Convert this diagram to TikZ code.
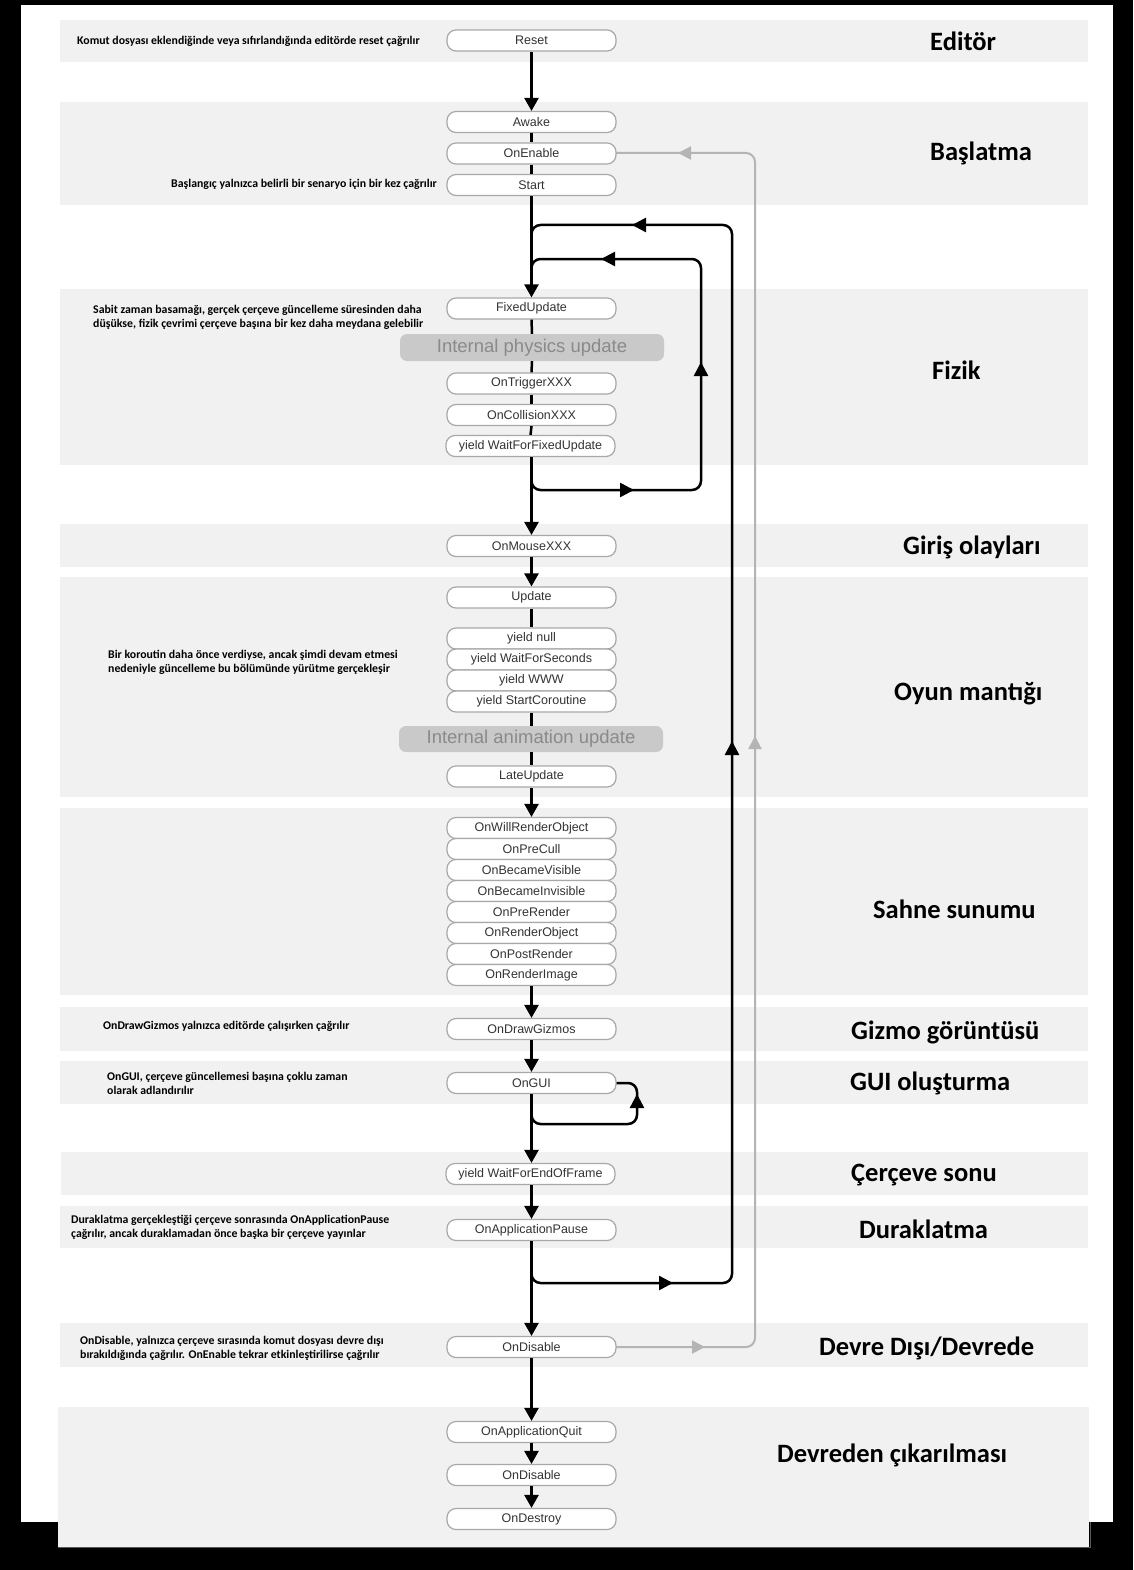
\documentclass[tikz,border=0pt]{standalone}
\usepackage{fontspec}
\setmainfont{Liberation Sans}
\newfontfamily\calfont{Carlito}
\usetikzlibrary{arrows.meta,calc}
\definecolor{band}{HTML}{F1F1F1}
\definecolor{nodeborder}{HTML}{A8A8A8}
\definecolor{nodetext}{HTML}{333333}
\definecolor{intfill}{HTML}{C9C9C9}
\definecolor{inttext}{HTML}{8A8A8A}
\definecolor{loopgray}{HTML}{B4B4B4}
\tikzset{
  fn/.style={draw=nodeborder, line width=1.2pt, fill=white, rounded corners=9pt,
    minimum width=169pt, minimum height=21pt, inner sep=0pt,
    font=\fontsize{12.5}{14}\selectfont, text=nodetext},
  intbox/.style={fill=intfill, rounded corners=7pt, minimum width=264pt, minimum height=27pt,
    inner sep=0pt, font=\fontsize{18.5}{20}\selectfont, text=inttext},
  sec/.style={anchor=mid west, inner sep=0pt, font=\calfont\bfseries\fontsize{26.5}{30}\selectfont},
  note/.style={inner sep=0pt, align=left, font=\calfont\bfseries\fontsize{11.8}{14}\selectfont},
  flow/.style={line width=2.5pt},
  arr/.style={line width=2.5pt, -{Triangle[width=14pt,length=13pt]}},
  loopline/.style={line width=2.5pt, rounded corners=9pt},
  midarr/.style={line width=2.5pt, -{Triangle[width=14pt,length=14pt]}},
  grayline/.style={line width=2pt, draw=loopgray, rounded corners=9pt},
  graymid/.style={line width=2pt, draw=loopgray, -{Triangle[width=13pt,length=13pt]}},
  bandbox/.style={fill=band, draw=none}
}
\begin{document}
\begin{tikzpicture}[x=1pt,y=-1pt]
\useasboundingbox (0,0) rectangle (1133,1570);
% page
\fill[black] (0,0) rectangle (1133,1570);
\fill[white] (21,5) rectangle (1113,1522);
% bands
\fill[band] (60,20) rectangle (1088,62);
\fill[band] (60,102) rectangle (1088,205);
\fill[band] (60,289) rectangle (1088,465);
\fill[band] (60,524) rectangle (1088,567);
\fill[band] (60,577) rectangle (1088,797);
\fill[band] (60,808) rectangle (1088,995);
\fill[band] (60,1007) rectangle (1088,1051);
\fill[band] (60,1061) rectangle (1088,1104);
\fill[band] (61,1152) rectangle (1088,1195);
\fill[band] (60,1206) rectangle (1088,1248);
\fill[band] (60,1323) rectangle (1088,1367);
\fill[band] (58,1407) rectangle (1089,1547);
\draw[line width=1pt, gray!70!black] (58,1547) -- (1090,1547) -- (1090,1522);

% section labels
\node[sec] (lEditor) at (930,48) {Editör};
\node[sec] (lBas) at (930,158) {Başlatma};
\node[sec] (lFizik) at (932,377) {Fizik};
\node[sec] (lGiris) at (903,552) {Giriş olayları};
\node[sec] (lOyun) at (894,698) {Oyun mantığı};
\node[sec] (lSahne) at (873,916) {Sahne sunumu};
\node[sec] (lGizmo) at (851,1037) {Gizmo görüntüsü};
\node[sec] (lGUI) at (850,1088) {GUI oluşturma};
\node[sec] (lCerceve) at (851,1179) {Çerçeve sonu};
\node[sec] (lDur) at (859,1236) {Duraklatma};
\node[sec] (lDevre) at (819,1353) {Devre Dışı/Devrede};
\node[sec] (lDevreden) at (777,1460) {Devreden çıkarılması};

% notes
\node[note, anchor=west] (n1) at (77,41) {Komut dosyası eklendiğinde veya sıfırlandığında editörde reset çağrılır};
\node[note, anchor=east] (n2) at (437,184) {Başlangıç yalnızca belirli bir senaryo için bir kez çağrılır};
\node[note, anchor=west] (n3) at (93,317) {Sabit zaman basamağı, gerçek çerçeve güncelleme süresinden daha\\düşükse, fizik çevrimi çerçeve başına bir kez daha meydana gelebilir};
\node[note, anchor=west] (n4) at (108,662) {Bir koroutin daha önce verdiyse, ancak şimdi devam etmesi\\nedeniyle güncelleme bu bölümünde yürütme gerçekleşir};
\node[note, anchor=west] (n5) at (103,1026) {OnDrawGizmos yalnızca editörde çalışırken çağrılır};
\node[note, anchor=west] (n6) at (107,1083) {OnGUI, çerçeve güncellemesi başına çoklu zaman\\olarak adlandırılır};
\node[note, anchor=west] (n7) at (71,1227) {Duraklatma gerçekleştiği çerçeve sonrasında OnApplicationPause\\çağrılır, ancak duraklamadan önce başka bir çerçeve yayınlar};
\node[note, anchor=west] (n8) at (80,1348) {OnDisable, yalnızca çerçeve sırasında komut dosyası devre dışı\\bırakıldığında çağrılır. OnEnable tekrar etkinleştirilirse çağrılır};

% coordinates for loops
\coordinate (o1) at (531.5,1283);
\coordinate (o2) at (732,1283);
\coordinate (o3) at (732,225);
\coordinate (o4) at (531.5,225);
\coordinate (i1) at (531.5,490);
\coordinate (i2) at (701,490);
\coordinate (i3) at (701,259);
\coordinate (i4) at (531.5,259);
\coordinate (g1) at (531.5,1124);
\coordinate (g2) at (637,1124);
\coordinate (g3) at (637,1083);
\coordinate (d1) at (755,1347);
\coordinate (d2) at (755,153);

% gray loop
\draw[grayline] (616,1347) -- (d1) -- (d2) -- (616,153);
\draw[graymid] (680,1347) -- (705,1347);
\draw[graymid] (755,760) -- (755,736);
\draw[graymid] (700,153) -- (678,153);

% black loops
\draw[loopline] ($(o1)+(0,-30)$) -- (o1) -- (o2) -- (o3) -- (o4) -- ($(o4)+(0,30)$);
\draw[midarr] (645,1283) -- (673,1283);
\draw[midarr] (732,770) -- (732,741);
\draw[midarr] (660,225) -- (632,225);
\draw[loopline] ($(i1)+(0,-30)$) -- (i1) -- (i2) -- (i3) -- (i4) -- ($(i4)+(0,30)$);
\draw[midarr] (605,490) -- (634,490);
\draw[midarr] (701,395) -- (701,362);
\draw[midarr] (630,259) -- (601,259);
\draw[loopline] ($(g1)+(0,-20)$) -- (g1) -- (g2) -- (g3) -- (600,1083);
\draw[midarr] (637,1115) -- (637,1094);

% nodes
\node[fn] (reset) at (531.5,40.5) {Reset};
\node[fn] (awake) at (531.5,122) {Awake};
\node[fn] (onenable) at (531.5,153.5) {OnEnable};
\node[fn] (start) at (531.5,185) {Start};
\node[fn] (fixed) at (531.5,308.5) {FixedUpdate};
\node[intbox] (phys) at (532,347.5) {Internal physics update};
\node[fn] (trig) at (531.5,383.5) {OnTriggerXXX};
\node[fn] (coll) at (531.5,415) {OnCollisionXXX};
\node[fn] (wffu) at (530.5,446) {yield WaitForFixedUpdate};
\node[fn] (mouse) at (531.5,546) {OnMouseXXX};
\node[fn] (update) at (531.5,597.5) {Update};
\node[fn] (ynull) at (531.5,638.5) {yield null};
\node[fn] (ywfs) at (531.5,659.5) {yield WaitForSeconds};
\node[fn] (ywww) at (531.5,680.5) {yield WWW};
\node[fn] (ysc) at (531.5,701.5) {yield StartCoroutine};
\node[intbox, minimum height=26pt] (anim) at (531,739) {Internal animation update};
\node[fn] (late) at (531.5,776.5) {LateUpdate};
\node[fn] (r1) at (531.5,828) {OnWillRenderObject};
\node[fn] (r2) at (531.5,849) {OnPreCull};
\node[fn] (r3) at (531.5,870) {OnBecameVisible};
\node[fn] (r4) at (531.5,891) {OnBecameInvisible};
\node[fn] (r5) at (531.5,912) {OnPreRender};
\node[fn] (r6) at (531.5,933) {OnRenderObject};
\node[fn] (r7) at (531.5,954) {OnPostRender};
\node[fn] (r8) at (531.5,975) {OnRenderImage};
\node[fn] (gizmos) at (531.5,1029) {OnDrawGizmos};
\node[fn] (ongui) at (531.5,1083) {OnGUI};
\node[fn] (eof) at (530.5,1174) {yield WaitForEndOfFrame};
\node[fn] (pause) at (531.5,1230) {OnApplicationPause};
\node[fn] (ondis) at (531.5,1347) {OnDisable};
\node[fn] (quit) at (531.5,1432) {OnApplicationQuit};
\node[fn] (dis2) at (531.5,1475) {OnDisable};
\node[fn] (destroy) at (531.5,1519) {OnDestroy};

% main flow
\draw[arr] (reset.south) -- (awake.north);
\draw[flow] (awake.south) -- (onenable.north);
\draw[flow] (onenable.south) -- (start.north);
\draw[arr] (start.south) -- (fixed.north);
\draw[flow] (fixed.south) -- (phys.north);
\draw[flow] (phys.south) -- (trig.north);
\draw[flow] (trig.south) -- (coll.north);
\draw[flow] (coll.south) -- (wffu.north);
\draw[arr] (wffu.south -| mouse.north) -- (mouse.north);
\draw[arr] (mouse.south) -- (update.north);
\draw[flow] (update.south) -- (ynull.north);
\draw[flow] (ysc.south) -- (anim.north -| ysc.south);
\draw[flow] (anim.south -| late.north) -- (late.north);
\draw[arr] (late.south) -- (r1.north);
\draw[arr] (r8.south) -- (gizmos.north);
\draw[arr] (gizmos.south) -- (ongui.north);
\draw[arr] (ongui.south) -- (eof.north -| ongui.south);
\draw[arr] (eof.south -| pause.north) -- (pause.north);
\draw[arr] (pause.south) -- (ondis.north);
\draw[arr] (ondis.south) -- (quit.north);
\draw[arr] (quit.south) -- (dis2.north);
\draw[arr] (dis2.south) -- (destroy.north);
\end{tikzpicture}
\end{document}
